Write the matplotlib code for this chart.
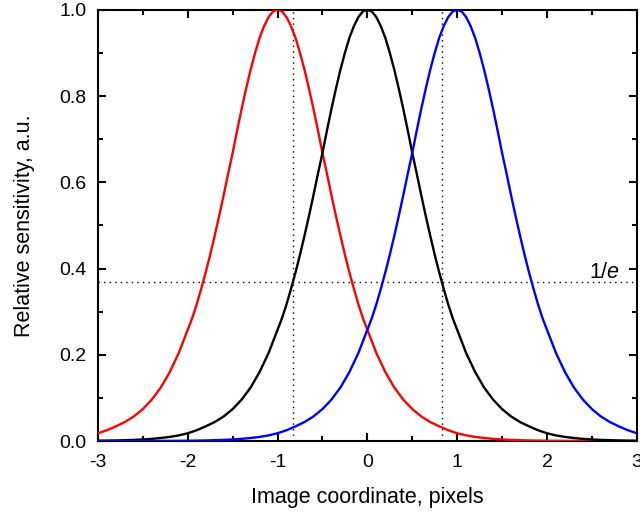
import numpy as np
import matplotlib
matplotlib.use("Agg")
import matplotlib.pyplot as plt
from matplotlib.ticker import MultipleLocator, FormatStrFormatter

plt.rcParams['font.family'] = ['Liberation Sans', 'DejaVu Sans']
plt.rcParams['axes.unicode_minus'] = False
plt.rcParams['mathtext.fontset'] = 'custom'
plt.rcParams['mathtext.rm'] = 'Liberation Sans'
plt.rcParams['mathtext.it'] = 'Liberation Sans:italic'

# half profile of one sensitivity curve (offset from peak, value)
offsets = [0.0, 0.05, 0.1, 0.15, 0.2, 0.25, 0.3, 0.35, 0.4, 0.45, 0.5,
           0.55, 0.6, 0.65, 0.7, 0.75, 0.8, 0.85, 0.9, 0.95, 1.0,
           1.1, 1.2, 1.3, 1.4, 1.5, 1.6, 1.7, 1.8, 1.9, 2.0,
           2.1, 2.2, 2.3, 2.4, 2.5, 2.6, 2.7, 2.8, 2.9, 3.0,
           3.2, 3.4, 3.6, 3.8, 4.0]
profile = [1.000, 0.996, 0.983, 0.962, 0.935, 0.900, 0.861, 0.817, 0.770, 0.720, 0.668,
           0.620, 0.570, 0.522, 0.476, 0.432, 0.391, 0.353, 0.317, 0.285, 0.258,
           0.204, 0.160, 0.124, 0.096, 0.074, 0.057, 0.044, 0.034, 0.025, 0.018,
           0.013, 0.0095, 0.007, 0.005, 0.0036, 0.0026, 0.0019, 0.0013, 0.0009, 0.0006,
           0.0003, 0.0002, 0.0001, 0.0, 0.0]

centers = [-1, 0, 1]
colors = ['#ff0000', '#000000', '#0000ff']

half_width = 0.833   # 1/e half width
inv_e = 1 / np.e

x_half = np.array(offsets)
y_half = np.array(profile)
xs = np.concatenate([-x_half[::-1], x_half[1:]])
ys = np.concatenate([y_half[::-1], y_half[1:]])

fig = plt.figure(figsize=(6.4, 5.14), dpi=100)
ax = fig.add_axes([0.153, 0.142, 0.842, 0.839])

for c, col in zip(centers, colors):
    ax.plot(xs + c, ys, color=col, lw=1.7, zorder=3, solid_joinstyle='round')

ax.axvline(-half_width, color='black', lw=1.0, ls=(0, (1, 3)), zorder=2)
ax.axvline(half_width, color='black', lw=1.0, ls=(0, (1, 3)), zorder=2)
ax.axhline(inv_e, color='black', lw=1.0, ls=(0, (1, 3)), zorder=2)
ax.text(2.81, 0.378, r'1/$e$', ha='right', va='baseline', fontsize=15.5)

ax.set_xlim(-3, 3)
ax.set_ylim(0, 1.0)
ax.xaxis.set_major_locator(MultipleLocator(1))
ax.xaxis.set_minor_locator(MultipleLocator(0.5))
ax.yaxis.set_major_locator(MultipleLocator(0.2))
ax.yaxis.set_minor_locator(MultipleLocator(0.1))
ax.yaxis.set_major_formatter(FormatStrFormatter('%.1f'))
ax.tick_params(which='both', direction='in', top=True, right=True, width=1.5, labelsize=14)
ax.tick_params(which='major', length=6)
ax.tick_params(which='minor', length=3.5)
ax.tick_params(axis='x', pad=9)
ax.tick_params(axis='y', pad=8)
for s in ax.spines.values():
    s.set_linewidth(1.5)

ax.set_xlabel('Image coordinate, pixels', fontsize=15.5, labelpad=12)
ax.set_ylabel('Relative sensitivity, a.u.', fontsize=15.5, labelpad=18)

fig.savefig('out.png', dpi=100)
